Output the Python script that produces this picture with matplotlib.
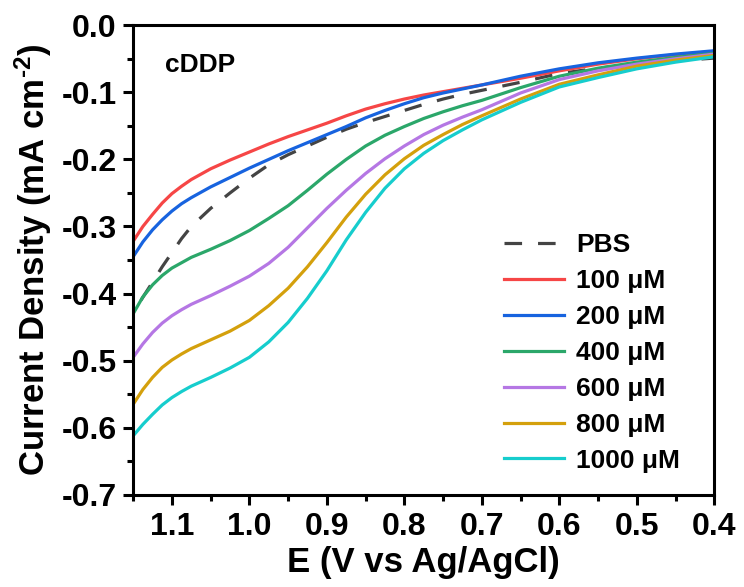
import matplotlib
matplotlib.use("Agg")
import matplotlib.pyplot as plt
from matplotlib.ticker import MultipleLocator

plt.rcParams['font.family'] = ['Liberation Sans', 'DejaVu Sans']
plt.rcParams['font.weight'] = 'bold'
plt.rcParams['mathtext.fontset'] = 'custom'
plt.rcParams['mathtext.rm'] = 'Liberation Sans:bold'
plt.rcParams['mathtext.bf'] = 'Liberation Sans:bold'
plt.rcParams['mathtext.default'] = 'bf'
plt.rcParams['axes.unicode_minus'] = False

E = [1.15, 1.1375, 1.125, 1.1125, 1.10, 1.0875, 1.075, 1.05, 1.025, 1.00, 0.975,
     0.95, 0.925, 0.90, 0.875, 0.85, 0.825, 0.80, 0.775, 0.75, 0.725, 0.70,
     0.65, 0.60, 0.55, 0.50, 0.45, 0.40]
E_pbs = [1.14] + E[2:]

pbs = [-0.41, -0.383, -0.360, -0.339, -0.318, -0.300, -0.273, -0.250, -0.228,
       -0.208, -0.193, -0.180, -0.167, -0.155, -0.145, -0.136, -0.127, -0.118,
       -0.110, -0.103, -0.097, -0.085, -0.072, -0.064, -0.058, -0.053, -0.049]
c100 = [-0.322, -0.300, -0.282, -0.265, -0.251, -0.240, -0.230, -0.214, -0.201,
        -0.189, -0.177, -0.166, -0.156, -0.146, -0.135, -0.125, -0.117, -0.110,
        -0.104, -0.099, -0.094, -0.089, -0.079, -0.068, -0.058, -0.050, -0.044,
        -0.039]
c200 = [-0.345, -0.323, -0.305, -0.290, -0.277, -0.266, -0.257, -0.241, -0.227,
        -0.213, -0.200, -0.187, -0.175, -0.163, -0.151, -0.138, -0.127, -0.117,
        -0.108, -0.101, -0.095, -0.089, -0.076, -0.065, -0.056, -0.049, -0.043,
        -0.038]
c400 = [-0.430, -0.405, -0.387, -0.373, -0.362, -0.354, -0.346, -0.334, -0.321,
        -0.306, -0.288, -0.269, -0.246, -0.222, -0.200, -0.180, -0.164, -0.151,
        -0.139, -0.129, -0.120, -0.112, -0.093, -0.076, -0.064, -0.055, -0.048,
        -0.042]
c600 = [-0.495, -0.475, -0.458, -0.444, -0.433, -0.424, -0.416, -0.403, -0.389,
        -0.374, -0.355, -0.331, -0.302, -0.273, -0.246, -0.221, -0.199, -0.180,
        -0.163, -0.149, -0.137, -0.126, -0.101, -0.081, -0.068, -0.058, -0.050,
        -0.043]
c800 = [-0.565, -0.543, -0.525, -0.510, -0.499, -0.490, -0.482, -0.469, -0.456,
        -0.440, -0.418, -0.392, -0.360, -0.324, -0.286, -0.252, -0.223, -0.199,
        -0.179, -0.163, -0.148, -0.135, -0.110, -0.088, -0.074, -0.061, -0.052,
        -0.045]
c1000 = [-0.612, -0.595, -0.580, -0.566, -0.555, -0.546, -0.538, -0.525, -0.511,
         -0.495, -0.472, -0.443, -0.407, -0.366, -0.320, -0.279, -0.243, -0.214,
         -0.191, -0.172, -0.156, -0.141, -0.115, -0.092, -0.078, -0.065, -0.055,
         -0.047]

labels = ['PBS', '100 μM', '200 μM', '400 μM', '600 μM', '800 μM', '1000 μM']
colors = ['#444444', '#F64646', '#1763DF', '#2BA76A', '#B577E4', '#D4A00C', '#16CDCD']

fig = plt.figure(figsize=(7.44, 5.87), dpi=100)
ax = fig.add_axes([0.179, 0.157, 0.781, 0.800])

lw = 2.3
ax.plot(E_pbs, pbs, color=colors[0], lw=lw, ls=(0, (5.5, 5.0)), label=labels[0])
for y, lab, col in zip([c100, c200, c400, c600, c800, c1000], labels[1:], colors[1:]):
    ax.plot(E, y, color=col, lw=lw, label=lab)

ax.set_xlim(1.15, 0.4)
ax.set_ylim(-0.7, 0.0)
ax.xaxis.set_minor_locator(MultipleLocator(0.05))
ax.yaxis.set_minor_locator(MultipleLocator(0.05))
ax.set_xticks([1.1, 1.0, 0.9, 0.8, 0.7, 0.6, 0.5, 0.4])
ax.set_xticklabels(['1.1', '1.0', '0.9', '0.8', '0.7', '0.6', '0.5', '0.4'])
ax.set_yticks([0.0, -0.1, -0.2, -0.3, -0.4, -0.5, -0.6, -0.7])
ax.set_yticklabels(['0.0', '-0.1', '-0.2', '-0.3', '-0.4', '-0.5', '-0.6', '-0.7'])

for s in ax.spines.values():
    s.set_linewidth(2.2)
ax.tick_params(which='major', direction='out', length=7, width=2.2, labelsize=23, pad=5)
ax.tick_params(which='minor', direction='out', length=4, width=2.2)
ax.tick_params(top=False, right=False, which='both')
for t in ax.get_xticklabels() + ax.get_yticklabels():
    t.set_fontweight('bold')

ax.set_xlabel('E (V vs Ag/AgCl)', fontsize=25, fontweight='bold', labelpad=3)
ax.set_ylabel('Current Density (mA cm$^{\\text{-2}}$)', fontsize=25, fontweight='bold', labelpad=5)

ax.text(0.055, 0.9, 'cDDP', transform=ax.transAxes, fontsize=19, fontweight='bold')

leg = ax.legend(loc='lower right', frameon=False, fontsize=19, handlelength=2.27,
                handletextpad=0.45, labelspacing=0.45, borderaxespad=0.3,
                bbox_to_anchor=(0.973, 0.008))
for t in leg.get_texts():
    t.set_fontweight('bold')

fig.savefig('out.png', dpi=100)
